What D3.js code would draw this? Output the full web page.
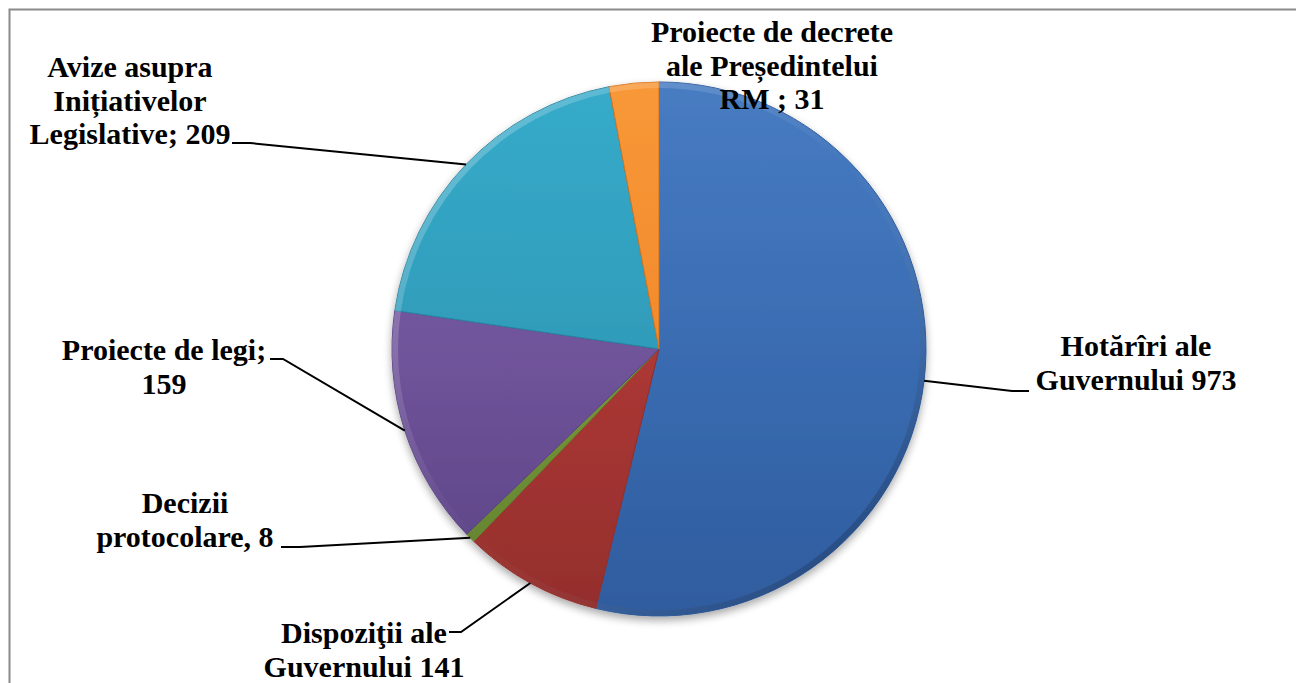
<!DOCTYPE html>
<meta charset="utf-8">
<html>
  <head>
    <script src="https://cdn.jsdelivr.net/npm/d3@7"></script>
    <style>
      body { margin: 0; background: #fff; }
    </style>
  </head>
  <body>
    <div id="chart"></div>

    <script type="text/javascript">
      // printed labels and counts (as written on the chart)
      var categories = ["Hotărîri ale Guvernului", "Dispoziţii ale Guvernului", "Decizii protocolare",
                        "Proiecte de legi", "Avize asupra Inițiativelor Legislative", "Proiecte de decrete ale Președintelui RM"],
          counts = [973, 141, 8, 159, 209, 31],
          // slice sizes as they are drawn in the picture (percent of the circle)
          shares = [53.8, 8.4, 0.6, 14.5, 19.7, 3.0],
          labelLines = [
            ["Hotărîri ale", "Guvernului 973"],
            ["Dispoziţii ale", "Guvernului 141"],
            ["Decizii", "protocolare, 8"],
            ["Proiecte de legi;", "159"],
            ["Avize asupra", "Inițiativelor", "Legislative; 209"],
            ["Proiecte de decrete", "ale Președintelui", "RM ; 31"]
          ];

      var width = 1296, height = 683,
          cx = 659, cy = 349, r = 267,
          lineH = 33.5,
          colors = [
            ["#477CC2", "#3A6CB2", "#2F5C9E"],
            ["#BB433F", "#AC3835", "#932E2C"],
            ["#88AA47", "#76983A", "#617F2E"],
            ["#7E62AA", "#70549B", "#5A4283"],
            ["#37ABCA", "#2F9CBA", "#27859F"],
            ["#F89838", "#F28A2C", "#D6731D"]
          ];

      // label block layout: centre x, first baseline, leader start
      var layout = [
        { x: 1136, y: 356, lx: 1029, ly: 391, kink: 1012 },
        { x: 364, y: 643, lx: 449, ly: 632, kink: 461 },
        { x: 185, y: 513, lx: 281, ly: 547, kink: 300 },
        { x: 164, y: 360, lx: 270, ly: 359, kink: 283 },
        { x: 130, y: 77, lx: 232, ly: 143, kink: 250 },
        { x: 772, y: 42, lx: null }
      ];

      var svg = d3.select("#chart").append("svg")
          .attr("width", width)
          .attr("height", height);

      var defs = svg.append("defs");

      var shadow = defs.append("filter").attr("id", "shadow")
          .attr("x", "-20%").attr("y", "-20%").attr("width", "140%").attr("height", "140%");
      shadow.append("feGaussianBlur").attr("in", "SourceAlpha").attr("stdDeviation", 4);
      shadow.append("feOffset").attr("dx", 0).attr("dy", 4).attr("result", "ob");
      shadow.append("feComponentTransfer").append("feFuncA").attr("type", "linear").attr("slope", 0.35);
      var merge = shadow.append("feMerge");
      merge.append("feMergeNode");
      merge.append("feMergeNode").attr("in", "SourceGraphic");

      // gradients in the pie group's own space (centre = 0,0)
      colors.forEach(function(c, i){
        var lg = defs.append("linearGradient").attr("id", "fill" + i)
            .attr("gradientUnits", "userSpaceOnUse")
            .attr("x1", 0).attr("y1", -r).attr("x2", 0).attr("y2", r);
        lg.append("stop").attr("offset", "0%").attr("stop-color", c[0]);
        lg.append("stop").attr("offset", "50%").attr("stop-color", c[1]);
        lg.append("stop").attr("offset", "100%").attr("stop-color", c[2]);
      });

      var rim = defs.append("linearGradient").attr("id", "rim")
          .attr("gradientUnits", "userSpaceOnUse")
          .attr("x1", -r * 0.7).attr("y1", -r * 0.7).attr("x2", r * 0.7).attr("y2", r * 0.7);
      rim.append("stop").attr("offset", "0%").attr("stop-color", "#fff").attr("stop-opacity", 0.22);
      rim.append("stop").attr("offset", "50%").attr("stop-color", "#fff").attr("stop-opacity", 0.0);
      rim.append("stop").attr("offset", "100%").attr("stop-color", "#000").attr("stop-opacity", 0.18);

      // chart area border
      svg.append("rect")
          .attr("x", 9.5).attr("y", 9.5)
          .attr("width", width + 20).attr("height", height + 20)
          .style("fill", "none")
          .style("stroke", "#8a8a8a")
          .style("stroke-width", "2px");

      var pie = d3.pie().sort(null).value(function(d){ return d; });
      var arcs = pie(shares);

      var arc = d3.arc().innerRadius(0).outerRadius(r);
      var rimArc = d3.arc().innerRadius(r - 6).outerRadius(r);

      var g = svg.append("g").attr("transform", "translate(" + cx + "," + cy + ")");

      var pieG = g.append("g").attr("filter", "url(#shadow)");
      pieG.selectAll(".slice")
          .data(arcs)
          .enter().append("path")
          .attr("class", "slice")
          .attr("d", arc)
          .style("fill", function(d, i){ return "url(#fill" + i + ")"; })
          .style("stroke", function(d, i){ return colors[i][2]; })
          .style("stroke-width", "1px");

      // bevel on the outer rim
      g.selectAll(".rim")
          .data(arcs)
          .enter().append("path")
          .attr("class", "rim")
          .attr("d", rimArc)
          .style("fill", "url(#rim)");

      // leader lines to the slice mid-points on the rim
      var edge = d3.arc().innerRadius(r).outerRadius(r);
      arcs.forEach(function(d, i){
        var L = layout[i];
        if (L.lx == null) return;
        var p = edge.centroid(d);
        svg.append("path")
            .attr("d", "M" + L.lx + "," + L.ly + " L" + L.kink + "," + L.ly + " L" + (cx + p[0]) + "," + (cy + p[1]))
            .style("fill", "none")
            .style("stroke", "#000")
            .style("stroke-width", "2px");
      });

      var labels = svg.selectAll(".label")
          .data(labelLines)
          .enter().append("text")
          .attr("class", "label")
          .attr("text-anchor", "middle")
          .style("font-family", "'Liberation Serif', 'Times New Roman', serif")
          .style("font-weight", "bold")
          .style("font-size", "30px")
          .style("fill", "#000");

      labels.each(function(lines, i){
        var t = d3.select(this);
        lines.forEach(function(s, j){
          t.append("tspan")
              .attr("x", layout[i].x)
              .attr("y", layout[i].y + j * lineH)
              .text(s);
        });
      });
    </script>
  </body>
</html>
